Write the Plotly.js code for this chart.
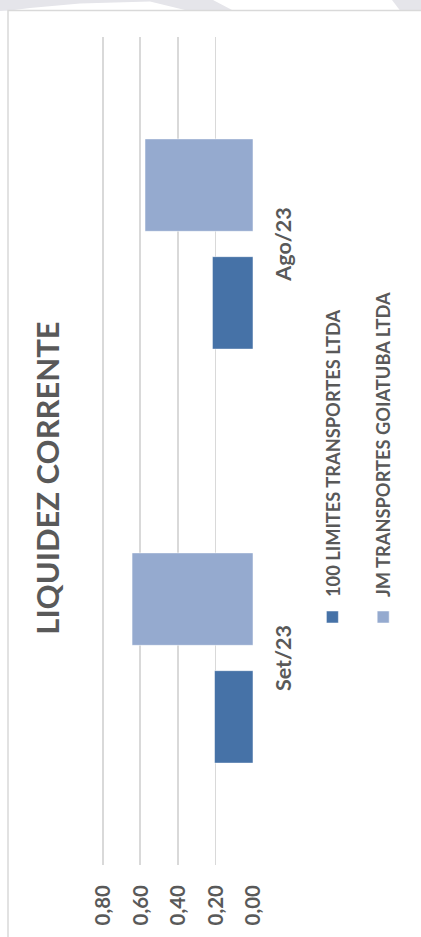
<!DOCTYPE html>
<html>
<head>
<meta charset="utf-8">
<script src="https://cdn.plot.ly/plotly-3.0.1.min.js"></script>
<style>
  html, body { margin: 0; padding: 0; background: #ffffff; overflow: hidden; }
  body { width: 421px; height: 937px; position: relative; }
  #chart {
    position: absolute; left: 0; top: 0;
    width: 937px; height: 421px;
    transform-origin: 0 0;
    transform: translate(0px, 937px) rotate(-90deg);
  }
</style>
</head>
<body>
<div id="chart"></div>
<script>
// ---- data ----
const categories = ['Set/23', 'Ago/23'];
const seriesNames = ['100 LIMITES TRANSPORTES LTDA', 'JM TRANSPORTES GOIATUBA LTDA'];
const limitesValues = [0.205, 0.216];
const jmValues = [0.644, 0.575];
const tickValues = [0, 0.2, 0.4, 0.6, 0.8];
const tickLabels = ['0,00', '0,20', '0,40', '0,60', '0,80'];
const chartTitle = 'LIQUIDEZ CORRENTE';

// ---- geometry helpers (unrotated chart frame: 937 x 421) ----
const W = 937, H = 421;
const M = { l: 72, r: 37, t: 99, b: 168 };
const PW = W - M.l - M.r, PH = H - M.t - M.b;
function paper(X, Y) { return [(X - M.l) / PW, (H - M.b - Y) / PH]; }
// screen (rotated page) pixel -> paper coords
function fromScreen(xs, ys) { return paper(W - ys, xs); }
function pathFromScreen(pts) {
  return pts.map((p, i) => {
    const q = fromScreen(p[0], p[1]);
    return (i === 0 ? 'M' : 'L') + q[0].toFixed(5) + ',' + q[1].toFixed(5);
  }).join(' ') + ' Z';
}

const textGrey = '#595959';
const fontFam = 'Lato, "Open Sans", sans-serif';

const traces = [
  {
    type: 'bar', name: seriesNames[0], x: categories, y: limitesValues,
    legendgroup: 'a',
    marker: { color: '#4672A7', line: { color: 'rgba(255,255,255,0.5)', width: 1 } },
    hoverinfo: 'skip'
  },
  {
    type: 'bar', name: seriesNames[1], x: categories, y: jmValues,
    legendgroup: 'b',
    marker: { color: '#95AACF', line: { color: 'rgba(255,255,255,0.5)', width: 1 } },
    hoverinfo: 'skip'
  }
];

const decoGrey = '#E5E5EA';
const frameA = fromScreen(8, 937 + 5);
const frameB = fromScreen(8, 10.5);
const frameC = fromScreen(421 + 5, 10.5);

const layout = {
  width: W, height: H,
  margin: M,
  paper_bgcolor: '#ffffff', plot_bgcolor: '#ffffff',
  font: { family: fontFam, color: textGrey },
  barmode: 'group',
  bargap: 0.431,
  bargroupgap: 0.215,
  title: {
    text: '<b>' + chartTitle + '</b>',
    font: { size: 31, color: textGrey, family: fontFam },
    xref: 'paper', x: (459 - M.l) / PW, xanchor: 'center',
    yref: 'container', y: 1 - 48 / H, yanchor: 'middle'
  },
  xaxis: {
    type: 'category',
    showgrid: false, zeroline: false, showline: false,
    ticks: '', ticklabelstandoff: 15,
    tickfont: { size: 21.5, color: textGrey, family: fontFam, weight: 'bold' },
    fixedrange: true
  },
  yaxis: {
    range: [0, 0.82],
    tickvals: tickValues, ticktext: tickLabels,
    showgrid: true, gridcolor: '#D9D9D9', gridwidth: 1.8,
    zeroline: false, showline: false,
    ticks: '', ticklabelstandoff: 19,
    tickfont: { size: 20.5, color: textGrey, family: fontFam, weight: 'bold' },
    fixedrange: true
  },
  showlegend: true,
  legend: {
    orientation: 'v',
    x: (300 - M.l) / PW, xanchor: 'left',
    y: (H - M.b - 314) / PH, yanchor: 'top',
    font: { size: 18.3, color: textGrey, family: fontFam, weight: 'bold' },
    tracegroupgap: 24,
    bgcolor: 'rgba(0,0,0,0)'
  },
  shapes: [
    { type: 'path', xref: 'paper', yref: 'paper', layer: 'below',
      path: pathFromScreen([[0,0],[213,0],[233,10.5],[187,10.5],[150,1.5],[80,3.5],[30,8],[10,10.5],[0,11]]),
      fillcolor: decoGrey, line: { width: 0 } },
    { type: 'path', xref: 'paper', yref: 'paper', layer: 'below',
      path: pathFromScreen([[392,0],[421,0],[421,10.5],[400,10.5]]),
      fillcolor: decoGrey, line: { width: 0 } },
    { type: 'path', xref: 'paper', yref: 'paper', layer: 'below',
      path: 'M' + frameA[0] + ',' + frameA[1] + ' L' + frameB[0] + ',' + frameB[1] + ' L' + frameC[0] + ',' + frameC[1],
      line: { color: '#D9D9D9', width: 1.5 } }
  ]
};

Plotly.newPlot('chart', traces, layout, { displayModeBar: false, staticPlot: true });
</script>
</body>
</html>
